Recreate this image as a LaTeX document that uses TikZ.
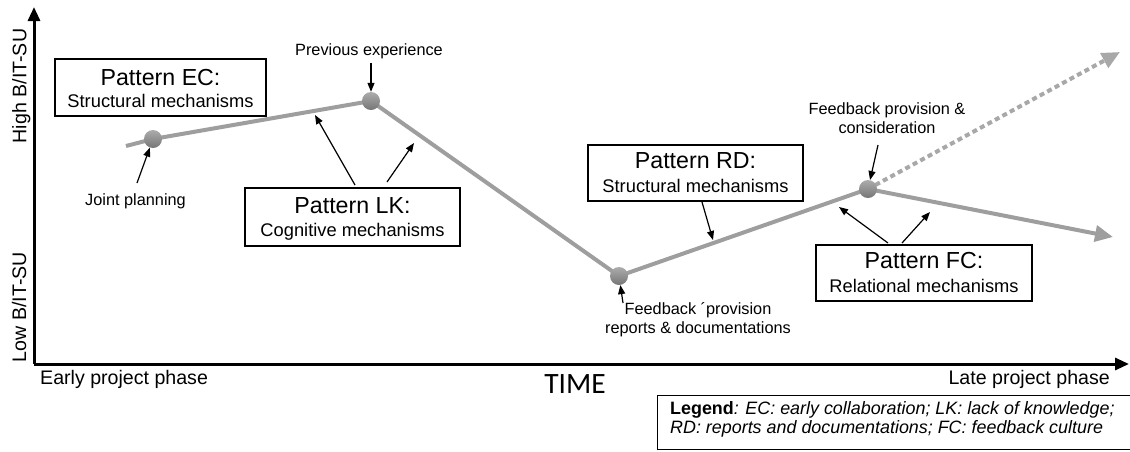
\documentclass[tikz,border=0pt]{standalone}
\usepackage{fontspec}
\setmainfont{Liberation Sans}
\newfontfamily\timefont{Carlito}
\usetikzlibrary{arrows.meta,backgrounds,calc}

\definecolor{trendgray}{RGB}{158,158,158}
\definecolor{dotlight}{RGB}{172,172,172}
\definecolor{dotdark}{RGB}{118,118,118}

\begin{document}
\begin{tikzpicture}[x=1pt,y=-1pt,
  axisline/.style={line width=3pt,-{Triangle[length=14pt,width=12pt]}},
  trend/.style={trendgray,line width=4pt,line join=round},
  trendtip/.style={-{Triangle[length=18pt,width=16pt]}},
  dotnode/.style={circle,minimum size=18pt,inner sep=0pt,top color=dotlight,bottom color=dotdark},
  pbox/.style={draw,line width=1.2pt,minimum width=215pt,minimum height=57pt,inner sep=0pt},
  ptitle/.style={anchor=base,inner sep=0pt,font=\fontsize{23.2}{25}\selectfont},
  psub/.style={anchor=base,inner sep=0pt,font=\fontsize{18.3}{20}\selectfont},
  note/.style={inner sep=0pt,align=center,font=\fontsize{16.3}{19}\selectfont},
  axlabel/.style={inner sep=0pt,font=\fontsize{19.6}{21}\selectfont},
  pointer/.style={line width=1.2pt,-{Triangle[length=9pt,width=7pt]}}
]
\useasboundingbox (0,0) rectangle (1130,451);
\clip (0,0) rectangle (1130,451);

% axes
\coordinate (o) at (34,364);
\coordinate (ytip) at (34,7);
\coordinate (xtip) at (1129,364);
\draw[axisline] (o) -- (ytip);
\draw[axisline] (o) -- (xtip);

\node[axlabel,rotate=90,anchor=base] (high) at (26.5,86) {High B/IT-SU};
\node[axlabel,rotate=90,anchor=base] (low) at (26,307) {Low B/IT-SU};
\node[axlabel,anchor=base west] (early) at (40,384) {Early project phase};
\node[axlabel,anchor=base east] (late) at (1110,384) {Late project phase};
\node[inner sep=0pt,anchor=base,font=\timefont\fontsize{29.5}{31}\selectfont] (time) at (575,393) {TIME};

% trend points
\node[dotnode] (p1) at (153,139) {};
\node[dotnode] (p2) at (371,101) {};
\node[dotnode] (p3) at (619,276) {};
\node[dotnode] (p4) at (868,189) {};
\coordinate (s0) at (126,146);
\coordinate (t1) at (1113,237);
\coordinate (t2) at (1120,52);

\begin{scope}[on background layer]
  \draw[trend] (s0) -- (p1.center) -- (p2.center) -- (p3.center) -- (p4.center);
  \draw[trend,trendtip] (p4.center) -- (t1);
  \draw[trend,trendgray!90,dash pattern=on 5pt off 3.5pt,trendtip] (p4.center) -- (t2);
\end{scope}

% pattern boxes
\node[pbox,minimum width=211pt] (ec) at (160.5,87.5) {};
\node[ptitle] (ect) at ($(ec.north)+(0,27)$) {Pattern EC:};
\node[psub] (ecs) at ($(ec.north)+(0,49.5)$) {Structural mechanisms};

\node[pbox,minimum height=58pt] (lk) at (352.5,217) {};
\node[ptitle] (lkt) at ($(lk.north)+(0,26)$) {Pattern LK:};
\node[psub] (lks) at ($(lk.north)+(0,49)$) {Cognitive mechanisms};

\node[pbox,minimum height=56pt] (rd) at (695.5,173) {};
\node[ptitle] (rdt) at ($(rd.north)+(0,24.5)$) {Pattern RD:};
\node[psub] (rds) at ($(rd.north)+(0,48)$) {Structural mechanisms};

\node[pbox,minimum width=216pt,minimum height=56pt] (fc) at (924,273) {};
\node[ptitle] (fct) at ($(fc.north)+(0,24.5)$) {Pattern FC:};
\node[psub] (fcs) at ($(fc.north)+(0,48)$) {Relational mechanisms};

% event labels
\node[note,anchor=base] (jp) at (135.5,205) {Joint planning};
\node[note,anchor=base] (pe) at (369,55) {Previous experience};
\node[note,anchor=north] (fb) at (887,102.5) {Feedback provision \&\\consideration};
\node[note,anchor=north] (fr) at (698,302.5) {Feedback ´provision\\reports \& documentations};

% pointer arrows
\coordinate (jp0) at (137,183);
\coordinate (pe0) at (371,63);
\coordinate (fb0) at (878,145);
\coordinate (fr0) at (623,303);
\draw[pointer] (jp0) -- (p1);
\draw[pointer] (pe0) -- (p2);
\draw[pointer] (fb0) -- (p4);
\draw[pointer] (fr0) -- (p3);

\coordinate (lk1) at (355,185);
\coordinate (lk1e) at (315,115);
\coordinate (lk2) at (387,182);
\coordinate (lk2e) at (414,143);
\draw[pointer] (lk1) -- (lk1e);
\draw[pointer] (lk2) -- (lk2e);

\coordinate (rd0) at (702,202);
\coordinate (rd0e) at (713,240);
\draw[pointer] (rd0) -- (rd0e);

\coordinate (fc1) at (888,243);
\coordinate (fc1e) at (839,207);
\coordinate (fc2) at (902,243);
\coordinate (fc2e) at (930,212);
\draw[pointer] (fc1) -- (fc1e);
\draw[pointer] (fc2) -- (fc2e);

% legend
\node[draw,line width=0.9pt,minimum width=475pt,minimum height=54pt,inner sep=0pt,anchor=north west] (legbox) at (657,395) {};
\node[inner sep=0pt,anchor=north west,align=left,font=\fontsize{17.9}{19}\selectfont] (legtext) at (670,401)
  {\textbf{Legend}\textit{: EC: early collaboration; LK: lack of knowledge;}\\\textit{RD: reports and documentations; FC: feedback culture}};
\end{tikzpicture}
\end{document}
